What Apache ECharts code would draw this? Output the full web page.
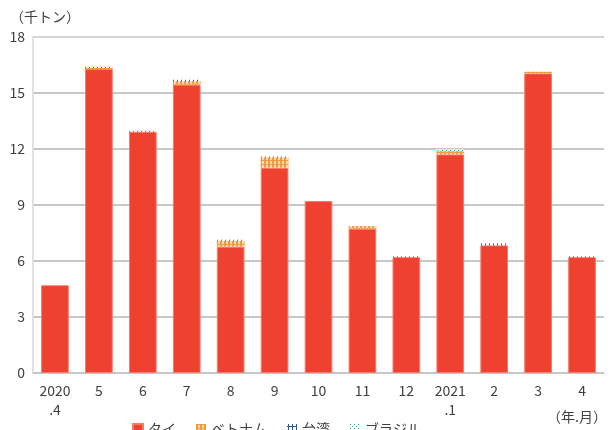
<!DOCTYPE html>
<html><head><meta charset="utf-8">
<script src="https://cdn.jsdelivr.net/npm/echarts@6/dist/echarts.min.js"></script>
<style>html,body{margin:0;padding:0;background:#fff}#c{width:611px;height:430px}</style>
</head><body><div id="c"></div>
<script>
const categories = ['2020\n.4','5','6','7','8','9','10','11','12','2021\n.1','2','3','4'];
const seriesNames = ['タイ','ベトナム','台湾','ブラジル'];
const thai    = [4.70, 16.28, 12.93, 15.44, 6.77, 11.00, 9.21, 7.73, 6.21, 11.71, 6.84, 16.05, 6.21];
const vietnam = [0, 0.07, 0, 0.20, 0.32, 0.56, 0, 0.14, 0, 0.18, 0, 0.09, 0];
const taiwan  = [0, 0.05, 0.04, 0.07, 0.05, 0.04, 0, 0, 0.04, 0, 0.10, 0, 0.04];
const brazil  = [0, 0, 0, 0, 0, 0, 0, 0, 0, 0.09, 0, 0, 0];
const yTicks = [0, 3, 6, 9, 12, 15, 18];

function pat(draw, w, h){
  const c = document.createElement('canvas'); c.width = w; c.height = h;
  const g = c.getContext('2d'); draw(g); return {image: c, repeat: 'repeat'};
}
const vnPat = pat(g=>{g.fillStyle='#FCD9B0';g.fillRect(0,0,4,4);g.fillStyle='#F39A3C';g.fillRect(0,0,2,4);g.fillRect(0,0,4,1);},4,4);
const twPat = pat(g=>{g.fillStyle='#ffffff';g.fillRect(0,0,4,4);g.fillStyle='#2F5597';g.fillRect(1,0,1,4);g.fillRect(0,2,4,1);},4,4);
const brPat = pat(g=>{g.fillStyle='#ffffff';g.fillRect(0,0,4,4);g.fillStyle='#3AA6A0';g.fillRect(0,0,1,1);g.fillRect(2,2,1,1);},4,4);

const font = '"Noto Sans CJK JP","Noto Sans",sans-serif';
const chart = echarts.init(document.getElementById('c'), null, {renderer:'canvas'});
const mk = (name, data, color, extra) => Object.assign({
  name, type:'bar', stack:'t', data, barWidth: '63%',
  itemStyle:{color}, emphasis:{disabled:true}
}, extra||{});
chart.setOption({
  animation:false,
  textStyle:{fontFamily:font},
  grid:{left:33, right:7, top:37, bottom:57},
  graphic:[
    {type:'text', left:10, top:10, style:{text:'（千トン）', font:'14px '+font, fill:'#404040'}},
    {type:'text', right:4, top:410, style:{text:'（年.月）', font:'14px '+font, fill:'#404040'}}
  ],
  legend:{
    left:127, top:417, itemWidth:10, itemHeight:10, itemGap:20,
    icon:'rect',
    textStyle:{fontSize:14, color:'#404040', fontFamily:font},
    data: seriesNames
  },
  xAxis:[{
    type:'category', data:categories,
    axisLine:{lineStyle:{color:'#c8c8c8', width:1.5}},
    axisTick:{show:false},
    axisLabel:{color:'#404040', fontSize:14, lineHeight:19, margin:8, interval:0, fontFamily:font}
  },{
    type:'category', data:categories, position:'top',
    axisLine:{show:true, lineStyle:{color:'#d9d9d9', width:1.5}},
    axisTick:{show:false}, axisLabel:{show:false}
  }],
  yAxis:{
    type:'value', min:yTicks[0], max:yTicks[yTicks.length-1], interval:3,
    axisLine:{show:true, lineStyle:{color:'#d9d9d9', width:1.5}},
    axisTick:{show:false},
    splitLine:{lineStyle:{color:'#b4b4b4', width:1.5}},
    axisLabel:{color:'#404040', fontSize:14, margin:8, fontFamily:font}
  },
  series:[
    mk(seriesNames[0], thai, '#EF4130', {itemStyle:{color:'#EF4130', borderColor:'#F47A6C', borderWidth:1}}),
    mk(seriesNames[1], vietnam, vnPat),
    mk(seriesNames[2], taiwan, twPat),
    mk(seriesNames[3], brazil, brPat)
  ]
});
</script></body></html>
